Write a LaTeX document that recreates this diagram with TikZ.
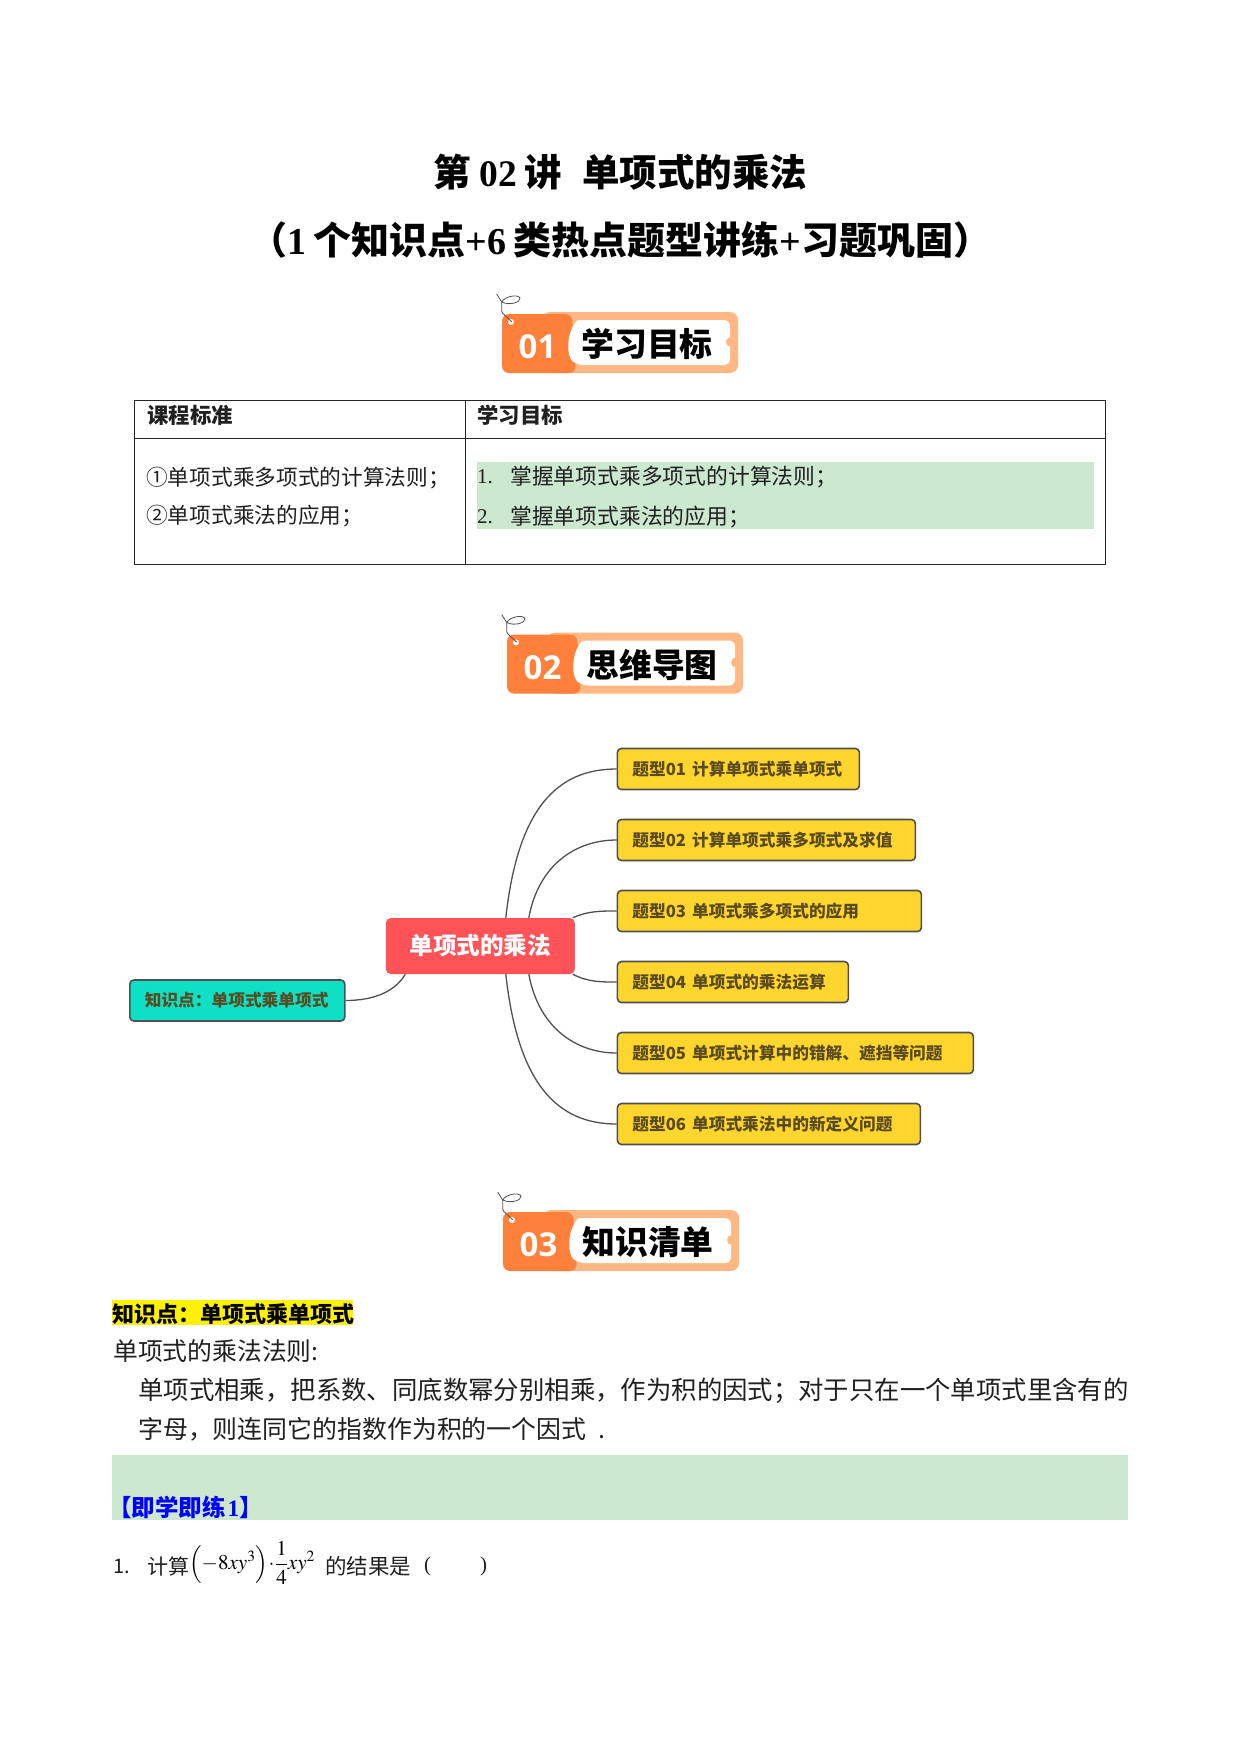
\documentclass[tikz,border=0pt]{standalone}
\usepackage{mathptmx}
\usepackage[no-math]{fontspec}
\setmainfont{Liberation Serif}
\newfontfamily\cjk{Noto Sans CJK SC}
\newfontfamily\bannum{Open Sans}
\newcommand{\fs}[1]{\fontsize{#1}{#1}\selectfont}
\newcommand{\tr}[1]{{\rmfamily #1}}
\definecolor{bandark}{HTML}{FF803A}
\definecolor{banlight}{HTML}{FFB883}
\definecolor{paleg}{HTML}{CCE8CF}
\definecolor{yelbox}{HTML}{FFD62E}
\definecolor{redbox}{HTML}{FF5357}
\definecolor{tealbox}{HTML}{0EE0C6}
\definecolor{edgeg}{HTML}{505050}
\definecolor{boxtxt}{HTML}{5A4A20}
\definecolor{bodytxt}{HTML}{202020}
\tikzset{
  txt/.style={inner sep=0pt,anchor=west,text=bodytxt,font=\cjk},
  mbox/.style={draw=edgeg,line width=1.6pt,rounded corners=4pt,anchor=west,inner ysep=0pt,inner xsep=15pt,
     minimum height=41pt,align=left,text=boxtxt,font=\cjk\bfseries\fs{16.7}},
  typebox/.style={mbox,fill=yelbox},
  link/.style={draw=edgeg,line width=1.3pt},
  tline/.style={draw=black!85,line width=0.9pt}
}
\newcommand{\banner}[5]{%
\begin{scope}[shift={(#1,#2)}]
  \fill[banlight,rounded corners=8pt] (40,0) rectangle (236,61);
  \fill[bandark,rounded corners=7pt] (0,2)--(70,2)--(74,61)--(0,61)--cycle;
  \fill[white,rounded corners=6pt] (76,8)--(228,8)--(228,53)--(76,53) .. controls (64,45) and (64,18) .. (76,8);
  \fill[banlight] (229,30) circle (5pt);
  \fill[white] (9,10) circle (3pt);
  \draw[edgeg,line width=0.8pt] (-5.3,-18) -- (-0.3,-10) .. controls (3,-16) and (16,-18) .. (18,-14) .. controls (19,-10) and (8,-6) .. (-0.3,-10) .. controls (0,-4) and (-1,-1) .. (0.7,1.3) -- (9.7,9.7);
  \node[inner sep=0pt,text=white,font=\bannum\bfseries\fs{33}] (num#3) at (35.5,35) {#4};
  \node[inner sep=0pt,text=black,font=\cjk\bfseries\fs{32.8}] (ban#3) at (145,32) {#5};
\end{scope}}
\begin{document}
\begin{tikzpicture}[x=1pt,y=-1pt]
\useasboundingbox (0,0) rectangle (1241,1754);
\fill[white] (0,0) rectangle (1241,1754);

\node[inner sep=0pt,text=black,font=\cjk\bfseries\fs{37.5}] (title1) at (620.5,172) {第\hspace{8pt}\tr{02}\hspace{8pt}讲\hspace{20pt}单项式的乘法};
\node[inner sep=0pt,text=black,font=\cjk\bfseries\fs{38}] (title2) at (620.5,240) {（\tr{1}\hspace{7pt}个知识点\tr{+6}\hspace{7pt}类热点题型讲练\tr{+}习题巩固）};

\banner{502}{312}{a}{01}{学习目标}

% table
\fill[paleg] (477,462) rectangle (1094,529);
\draw[tline] (134.5,400) rectangle (1105.5,564);
\draw[tline] (134.5,438) -- (1105.5,438);
\draw[tline] (465.5,400) -- (465.5,564);
\node[txt,font=\cjk\bfseries\fs{21.4}] (th1) at (147,415) {课程标准};
\node[txt,font=\cjk\bfseries\fs{21.4}] (th2) at (477,415) {学习目标};
\node[txt,font=\cjk\fs{21.7}] (tl1) at (146,478) {①单项式乘多项式的计算法则；};
\node[txt,font=\cjk\fs{21.7}] (tl2) at (146,516) {②单项式乘法的应用；};
\node[txt,font=\rmfamily\fs{21}] (n1) at (477,477) {1.};
\node[txt,font=\cjk\fs{21.8}] (tr1) at (510,477) {掌握单项式乘多项式的计算法则；};
\node[txt,font=\rmfamily\fs{21}] (n2) at (477,517) {2.};
\node[txt,font=\cjk\fs{21.8}] (tr2) at (510,517) {掌握单项式乘法的应用；};

\banner{507}{632.5}{b}{02}{思维导图}

% mind map
\node[anchor=center,fill=redbox,rounded corners=5pt,minimum width=189pt,minimum height=56pt,inner sep=0pt,text=white,font=\cjk\bfseries\fs{23.6}] (root) at (480.3,946) {单项式的乘法};
\node[mbox,fill=tealbox,text width=185pt] (kp) at (129,1000.5) {知识点：单项式乘单项式};
\node[typebox,text width=212pt] (t1) at (616.6,769) {题型01\hspace{6pt}计算单项式乘单项式};
\node[typebox,text width=268pt] (t2) at (616.6,840) {题型02\hspace{6pt}计算单项式乘多项式及求值};
\node[typebox,text width=274pt] (t3) at (616.6,911) {题型03\hspace{6pt}单项式乘多项式的应用};
\node[typebox,text width=201pt] (t4) at (616.6,982) {题型04\hspace{6pt}单项式的乘法运算};
\node[typebox,text width=326pt] (t5) at (616.6,1053) {题型05\hspace{6pt}单项式计算中的错解、遮挡等问题};
\node[typebox,text width=273pt] (t6) at (616.6,1124) {题型06\hspace{6pt}单项式乘法中的新定义问题};
\draw[link] ([xshift=25.5pt]root.north) .. controls +(12,-109) and +(-60,0) .. (t1.west);
\draw[link] ([xshift=48.5pt]root.north) .. controls +(10,-54) and +(-40,0) .. (t2.west);
\draw[link] ([xshift=92.5pt]root.north) .. controls +(15,-7) and +(-15,0) .. (t3.west);
\draw[link] ([xshift=92.5pt]root.south) .. controls +(15,8) and +(-15,0) .. (t4.west);
\draw[link] ([xshift=48.5pt]root.south) .. controls +(10,54) and +(-40,0) .. (t5.west);
\draw[link] ([xshift=25.5pt]root.south) .. controls +(12,109) and +(-60,0) .. (t6.west);
\draw[link] ([xshift=-75pt]root.south) .. controls +(-10,17) and +(29,0) .. (kp.east);

\banner{503}{1210}{c}{03}{知识清单}

% knowledge list
\fill[yellow] (112,1300) rectangle (353,1325);
\node[txt,text=black,font=\cjk\bfseries\fs{22}] (head) at (112,1314) {知识点：单项式乘单项式};
\node[txt,font=\cjk\fs{24.8}] (rule) at (113,1351) {单项式的乘法法则:};
\node[txt,font=\cjk\fs{25.4}] (l1) at (138,1391) {单项式相乘，把系数、同底数幂分别相乘，作为积的因式；对于只在一个单项式里含有的};
\node[txt,font=\cjk\fs{24.9}] (l2) at (138,1429.5) {字母，则连同它的指数作为积的一个因式\hspace{12pt}.};
\fill[paleg] (112,1455) rectangle (1128,1520);
\node[txt,text=blue,font=\cjk\bfseries\fs{23.5}] (drill) at (108,1507) {【即学即练\hspace{2pt}\tr{1}】};
\node[txt,font=\cjk\fs{20}] (qn) at (113,1566) {1.};
\node[txt,font=\cjk\fs{21}] (q1) at (147,1566) {计算};
\node[txt,text=black,font=\fs{21}] (qm) at (189,1563) {$\displaystyle\Big({-}8xy^{3}\Big)\!\cdot\!\frac{1}{4}xy^{2}$};
\node[txt,font=\cjk\fs{21.5}] (q2) at (325,1566) {的结果是};
\node[txt,font=\rmfamily\fs{21}] (q3) at (424,1566) {(};
\node[txt,font=\rmfamily\fs{21}] (q4) at (480,1566) {)};
\end{tikzpicture}
\end{document}
